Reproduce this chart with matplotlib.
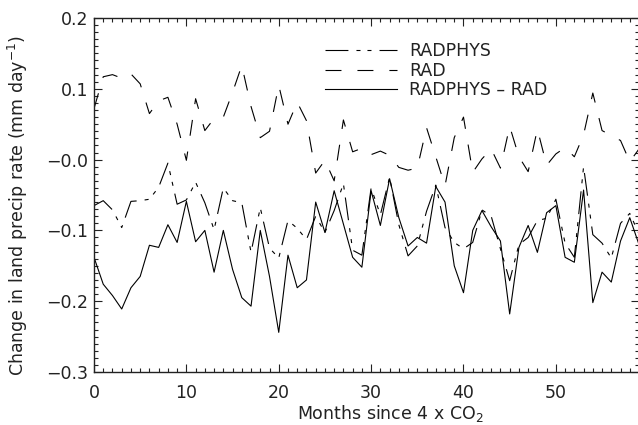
import numpy as np
import matplotlib
matplotlib.use('Agg')
import matplotlib.pyplot as plt
from matplotlib.ticker import MultipleLocator

# Monthly values (mm/day)
months = list(range(60))

radphys = [-0.065, -0.058, -0.071, -0.096, -0.059, -0.058, -0.056, -0.039, -0.005, -0.063,
           -0.057, -0.032, -0.061, -0.099, -0.040, -0.058, -0.061, -0.131, -0.068, -0.125,
           -0.139, -0.086, -0.097, -0.113, -0.080, -0.103, -0.072, -0.034, -0.128, -0.135,
           -0.040, -0.078, -0.025, -0.092, -0.136, -0.122, -0.073, -0.036, -0.096, -0.117,
           -0.126, -0.117, -0.071, -0.080, -0.126, -0.171, -0.120, -0.110, -0.086, -0.083,
           -0.056, -0.118, -0.138, -0.010, -0.106, -0.118, -0.139, -0.090, -0.076, -0.105]

rad = [0.072, 0.117, 0.120, 0.115, 0.121, 0.107, 0.065, 0.083, 0.088, 0.050,
       -0.001, 0.086, 0.041, 0.058, 0.060, 0.095, 0.133, 0.075, 0.031, 0.040,
       0.105, 0.050, 0.081, 0.055, -0.019, -0.001, -0.030, 0.056, 0.011, 0.016,
       0.007, 0.012, 0.006, -0.011, -0.015, -0.012, 0.045, 0.004, -0.037, 0.031,
       0.060, -0.018, 0.001, 0.015, -0.012, 0.047, 0.004, -0.017, 0.043, -0.008,
       0.008, 0.017, 0.004, 0.035, 0.094, 0.041, 0.034, 0.027, -0.003, 0.015]

diff = [-0.138, -0.176, -0.192, -0.211, -0.181, -0.165, -0.121, -0.124, -0.092, -0.117,
        -0.059, -0.116, -0.100, -0.159, -0.100, -0.155, -0.195, -0.207, -0.100, -0.165,
        -0.244, -0.135, -0.181, -0.170, -0.060, -0.103, -0.044, -0.091, -0.138, -0.152,
        -0.044, -0.093, -0.027, -0.082, -0.122, -0.110, -0.118, -0.038, -0.060, -0.150,
        -0.188, -0.100, -0.072, -0.095, -0.115, -0.218, -0.124, -0.093, -0.131, -0.075,
        -0.065, -0.138, -0.145, -0.043, -0.202, -0.159, -0.173, -0.115, -0.082, -0.120]

xticks = [0, 10, 20, 30, 40, 50]
yticks = [-0.3, -0.2, -0.1, 0.0, 0.1, 0.2]
ytick_labels = ['\u22120.3', '\u22120.2', '\u22120.1', '\u22120.0', '0.1', '0.2']

plt.rcParams['font.family'] = ['DejaVu Sans']
plt.rcParams['font.size'] = 12.5
plt.rcParams['lines.scale_dashes'] = False

fig = plt.figure(figsize=(6.38, 4.25), dpi=100)
# plot box: x=0 at 94px, top at 18px, bottom at 372px, right edge just past the image
ax = fig.add_axes([94 / 638, 53 / 425, 545 / 638, 354 / 425])

ax.plot(months, radphys, color='k', lw=0.8, dashes=[16.5, 5.8, 2.9, 5.0, 2.9, 5.8],
        label='RADPHYS')
ax.plot(months, rad, color='k', lw=0.8, dashes=[11.5, 11.5], label='RAD')
ax.plot(months, diff, color='k', lw=0.8, label='RADPHYS \u2013 RAD')

ax.set_xlim(0, 59)
ax.set_ylim(-0.3, 0.2)
ax.set_xticks(xticks)
ax.set_xticklabels([str(t) for t in xticks])
ax.set_yticks(yticks)
ax.set_yticklabels(ytick_labels)
ax.xaxis.set_minor_locator(MultipleLocator(1))
ax.yaxis.set_minor_locator(MultipleLocator(0.01))

ax.tick_params(which='both', direction='in', top=True, right=True, width=0.8,
               colors='#222222', labelcolor='#222222')
ax.tick_params(which='major', length=5.8)
ax.tick_params(which='minor', length=2.9)
ax.tick_params(axis='x', pad=8.3)
ax.tick_params(axis='y', pad=4.0)
for s in ax.spines.values():
    s.set_linewidth(1.0)
    s.set_color('#222222')

ax.set_xlabel('Months since 4 x CO$_2$', color='#222222')
ax.xaxis.set_label_coords((390 - 94) / 545, -0.088)
ax.set_ylabel('Change in land precip rate (mm day$^{-1}$)', color='#222222')
ax.yaxis.set_label_coords(-0.117, 0.47)

leg = ax.legend(loc='upper left', bbox_to_anchor=((325 - 94) / 545, (372 - 42) / 354),
                frameon=False, handlelength=4.15, handletextpad=0.69,
                labelspacing=0.1, borderpad=0, borderaxespad=0)
for t in leg.get_texts():
    t.set_color('#222222')

fig.savefig('out.png', dpi=100)
